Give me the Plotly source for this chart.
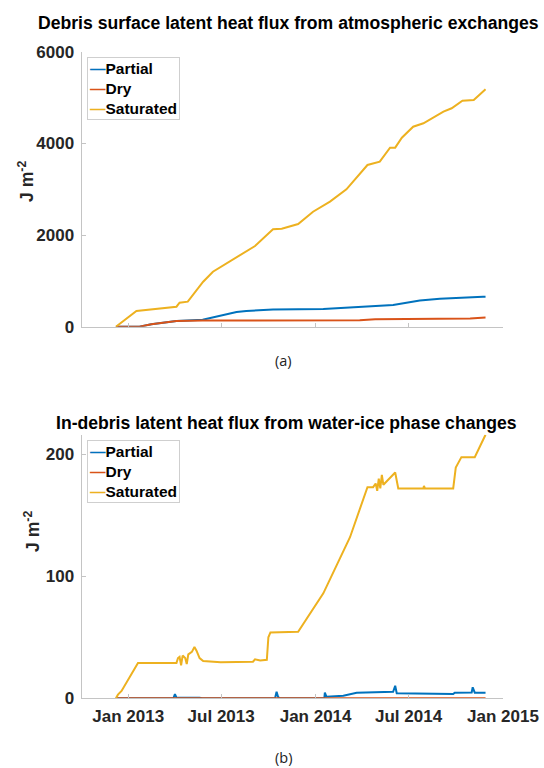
import plotly.graph_objects as go

# ---------------- data ----------------
series_names = ["Partial", "Dry", "Saturated"]
series_colors = ["#0072BD", "#D95319", "#EDB120"]

# (a) surface latent heat flux, cumulative J m-2
a_partial_dates = ["2012-12-08", "2013-01-23", "2013-02-15", "2013-04-05", "2013-05-26", "2013-06-28",
                   "2013-07-31", "2013-08-19", "2013-10-10", "2014-01-16", "2014-06-01", "2014-07-23",
                   "2014-08-31", "2014-11-23", "2014-11-28"]
a_partial_vals = [0, 0, 55, 125, 150, 233, 320, 345, 375, 386, 473, 570, 610, 655, 655]

a_dry_dates = ["2012-12-08", "2013-01-23", "2013-02-15", "2013-04-05", "2013-05-26", "2014-03-28",
               "2014-04-27", "2014-10-29", "2014-11-28"]
a_dry_vals = [0, 0, 55, 125, 135, 140, 165, 180, 200]

a_sat_dates = ["2012-12-08", "2013-01-17", "2013-04-05", "2013-04-11", "2013-04-27", "2013-05-27",
               "2013-06-15", "2013-07-24", "2013-09-05", "2013-10-10", "2013-10-27", "2013-11-28",
               "2013-12-27", "2014-01-29", "2014-03-02", "2014-04-12", "2014-05-06", "2014-05-26",
               "2014-06-05", "2014-06-18", "2014-07-10", "2014-07-30", "2014-09-07", "2014-09-23",
               "2014-10-14", "2014-11-05", "2014-11-28"]
a_sat_vals = [0, 343, 436, 524, 546, 982, 1200, 1471, 1761, 2125, 2138, 2241, 2509, 2728, 2998, 3528,
              3600, 3906, 3906, 4124, 4364, 4438, 4691, 4766, 4931, 4947, 5180]

# (b) in-debris latent heat flux, cumulative J m-2
b_partial_dates = ["2012-12-08", "2013-03-30", "2013-04-02", "2013-04-05", "2013-05-20", "2013-05-25",
                   "2013-10-14", "2013-10-17", "2013-10-20", "2013-10-24", "2014-01-18", "2014-01-19",
                   "2014-01-22", "2014-02-24", "2014-03-22", "2014-06-01", "2014-06-05", "2014-06-08",
                   "2014-09-26", "2014-09-29", "2014-11-01", "2014-11-03", "2014-11-07", "2014-11-28"]
b_partial_vals = [0, 0, 3.5, 0.5, 0.5, 0, 0, 5.4, 1, 0, 0, 4.6, 1.3, 2.1, 4.6, 5.4, 10.3, 4.1,
                  3.5, 4.6, 4.8, 9, 4.6, 4.6]

b_dry_dates = ["2012-12-08", "2014-11-28"]
b_dry_vals = [0, 0]

b_sat_dates = ["2012-12-08", "2012-12-12", "2012-12-19", "2013-01-20", "2013-04-05", "2013-04-08",
               "2013-04-11", "2013-04-14", "2013-04-17", "2013-04-22", "2013-04-25", "2013-04-28",
               "2013-05-05", "2013-05-10", "2013-05-14", "2013-05-20", "2013-05-27", "2013-06-30",
               "2013-09-01", "2013-09-05", "2013-09-15", "2013-09-28", "2013-10-01", "2013-10-05",
               "2013-11-28", "2014-01-16", "2014-03-09", "2014-04-12", "2014-04-23", "2014-04-28",
               "2014-05-01", "2014-05-04", "2014-05-07", "2014-05-10", "2014-05-13", "2014-06-05",
               "2014-06-11", "2014-07-30", "2014-07-31", "2014-08-02", "2014-09-26", "2014-10-01",
               "2014-10-12", "2014-11-07", "2014-11-28"]
b_sat_vals = [0, 3, 6, 29, 29, 33, 34, 27, 35, 33, 28, 36, 38, 42, 39, 33, 30.5, 29.5, 30, 32, 31,
              31.5, 50, 54, 54.5, 86, 132, 173, 173, 176, 170, 180, 172, 183, 175, 185, 172, 172, 174,
              172, 172, 189, 197.6, 197.6, 216]

x_tick_dates = ["2013-01-01", "2013-07-01", "2014-01-01", "2014-07-01", "2015-01-01"]
x_tick_labels = ["Jan 2013", "Jul 2013", "Jan 2014", "Jul 2014", "Jan 2015"]
a_y_ticks = [0, 2000, 4000, 6000]
b_y_ticks = [0, 100, 200]

titles = ["Debris surface latent heat flux from atmospheric exchanges",
          "In-debris latent heat flux from water-ice phase changes"]
captions = ["(a)", "(b)"]
y_label = "J m<sup>-2</sup>"

# ---------------- figure ----------------
W, H = 544, 768
FONT = "Liberation Sans"
AXC = "#c4c4c4"
TXT = "#262626"

fig = go.Figure()

panel_a = [(a_partial_dates, a_partial_vals), (a_dry_dates, a_dry_vals), (a_sat_dates, a_sat_vals)]
panel_b = [(b_partial_dates, b_partial_vals), (b_dry_dates, b_dry_vals), (b_sat_dates, b_sat_vals)]

for (d, v), name, col in zip(panel_a, series_names, series_colors):
    fig.add_trace(go.Scatter(x=d, y=v, mode="lines", name=name, line=dict(color=col, width=2),
                             xaxis="x", yaxis="y", showlegend=False))
for (d, v), name, col in zip(panel_b, series_names, series_colors):
    fig.add_trace(go.Scatter(x=d, y=v, mode="lines", name=name, line=dict(color=col, width=2),
                             xaxis="x2", yaxis="y2", showlegend=False))

def px_x(p):
    return p / W

def px_y(p):
    return 1 - p / H

xdom = [px_x(81.5), px_x(503)]
x_range = ["2012-10-02", "2015-01-01"]

common_axis = dict(showline=True, linecolor=AXC, linewidth=1, showgrid=False, zeroline=False,
                   ticks="inside", ticklen=4, tickcolor=AXC, tickwidth=1, automargin=False)

fig.update_layout(
    width=W, height=H, margin=dict(l=0, r=0, t=0, b=0, autoexpand=False),
    paper_bgcolor="white", plot_bgcolor="white", showlegend=False,
    xaxis=dict(domain=xdom, range=x_range, type="date", anchor="y",
               tickvals=x_tick_dates, ticktext=x_tick_labels, showticklabels=False, **common_axis),
    yaxis=dict(domain=[px_y(326.7), px_y(51.7)], range=[0, 6000], anchor="x",
               tickvals=a_y_ticks, ticktext=[str(t) for t in a_y_ticks],
               tickfont=dict(family=FONT, size=17, color=TXT, weight="bold"),
               ticklabelstandoff=3, **common_axis),
    xaxis2=dict(domain=xdom, range=x_range, type="date", anchor="y2",
                tickvals=x_tick_dates, ticktext=x_tick_labels,
                tickfont=dict(family=FONT, size=17, color=TXT, weight="bold"),
                ticklabelstandoff=2, **common_axis),
    yaxis2=dict(domain=[px_y(698.3), px_y(434.7)], range=[0, 216], anchor="x2",
                tickvals=b_y_ticks, ticktext=[str(t) for t in b_y_ticks],
                tickfont=dict(family=FONT, size=17, color=TXT, weight="bold"),
                ticklabelstandoff=3, **common_axis),
)

annotations = []
# titles
for t, cx, cy in zip(titles, [288.5, 286.5], [22.5, 422.5]):
    annotations.append(dict(text="<b>%s</b>" % t, x=px_x(cx), y=px_y(cy), xref="paper", yref="paper",
                            xanchor="center", yanchor="middle", showarrow=False,
                            font=dict(family=FONT, size=17.6, color="black")))
# y labels
for cx, cy in [(26, 182), (32, 532)]:
    annotations.append(dict(text="<b>%s</b>" % y_label, x=px_x(cx), y=px_y(cy), xref="paper", yref="paper",
                            xanchor="center", yanchor="middle", showarrow=False, textangle=-90,
                            font=dict(family=FONT, size=17.6, color=TXT)))
# captions
for c, cy in zip(captions, [361, 757.5]):
    annotations.append(dict(text=c, x=px_x(283), y=px_y(cy), xref="paper", yref="paper",
                            xanchor="center", yanchor="middle", showarrow=False,
                            font=dict(family="Open Sans", size=14.5, color="#222222")))
# legends (one box per panel)
legend_text = "<br>".join("<span style='color:%s'>—</span>%s" % (c, n)
                          for n, c in zip(series_names, series_colors))
for lx, ly in [(87.4, 57), (86.7, 440)]:
    annotations.append(dict(text="<b>%s</b>" % legend_text, x=px_x(lx), y=px_y(ly), xref="paper", yref="paper",
                            xanchor="left", yanchor="top", align="left", showarrow=False,
                            font=dict(family=FONT, size=15.5, color="black"),
                            bordercolor="#cfcfcf", borderwidth=1, borderpad=2, bgcolor="white"))
fig.update_layout(annotations=annotations)

fig.write_html("out.html", config={"displayModeBar": False},
               post_script="document.documentElement.style.margin='0';"
                           "document.body.style.margin='0';document.body.style.padding='0';"
                           "document.body.style.overflow='hidden';")
